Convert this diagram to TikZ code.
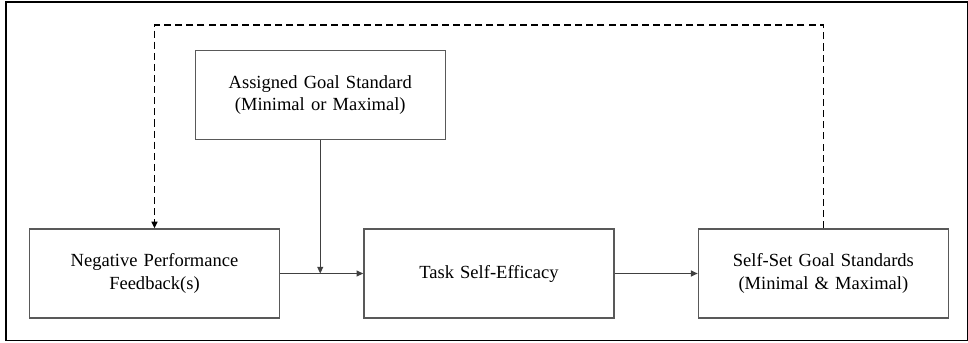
\documentclass[tikz,border=0pt]{standalone}
\usepackage{fontspec}
\setmainfont{Liberation Serif}
\usetikzlibrary{arrows.meta,positioning}
\tikzset{
    %Define standard arrow tip
    >={Triangle[length=3.6pt,width=3.2pt]},
    %Define style for boxes
    boks/.style={
           rectangle,
           draw=black!65,
           line width=0.8pt,
           minimum width=135pt,
           minimum height=48pt,
           text width=125pt,
           align=center,
           font=\fontsize{10}{12.2}\selectfont},
    % Define arrow style
    pil/.style={
           ->,
           draw=black!75,
           line width=0.65pt},
    % Define style for the feedback loop
    tilbake/.style={
           ->,
           line width=0.9pt,
           dash pattern=on 3.8pt off 2.2pt}
}
\begin{document}
\begin{tikzpicture}[x=0.54pt,y=0.54pt,node distance=44.8pt]
  \useasboundingbox (0,0) rectangle (968,342);
  \draw[line width=0.8pt] (6,1.7) rectangle (967.3,340);
  \node[boks] (feedback) at (154.5,68.5) {Negative Performance\\Feedback(s)};
  \node[boks,right=of feedback] (efficacy) {Task Self-Efficacy};
  \node[boks,right=of efficacy] (selfset) {Self-Set Goal Standards\\(Minimal \& Maximal)};
  \coordinate[right=21.6pt of feedback.east] (join);
  \node[boks,above=72pt of join] (assigned) {Assigned Goal Standard\\(Minimal or Maximal)};
  \draw[pil] (feedback) -- (efficacy);
  \draw[pil] (efficacy) -- (selfset);
  \draw[pil] (assigned) -- (join);
  \draw[tilbake] (selfset.north) -- ++(0,203.3) -| (feedback.north);
\end{tikzpicture}
\end{document}
